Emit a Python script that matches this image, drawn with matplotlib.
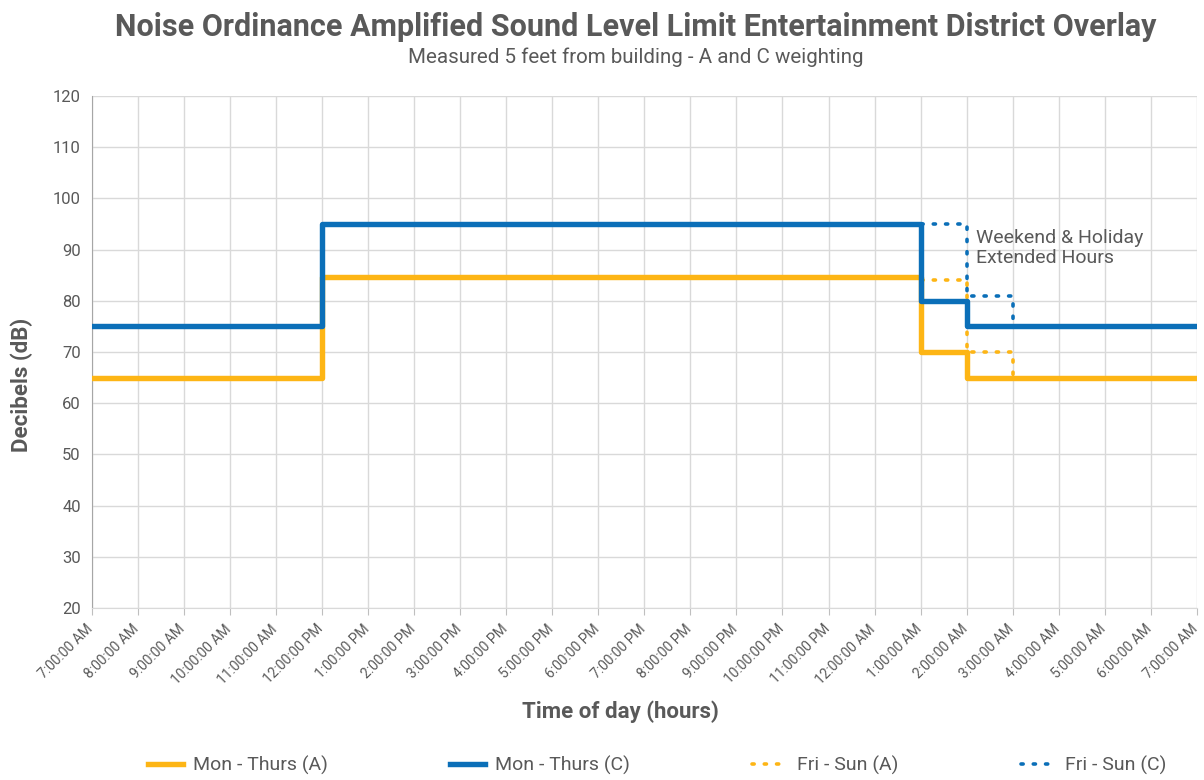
import matplotlib
matplotlib.use("Agg")
import matplotlib.pyplot as plt
from matplotlib import transforms

plt.rcParams['font.family'] = ['Roboto', 'DejaVu Sans']

# ---- data ----
tick_labels = ["7:00:00 AM", "8:00:00 AM", "9:00:00 AM", "10:00:00 AM", "11:00:00 AM",
               "12:00:00 PM", "1:00:00 PM", "2:00:00 PM", "3:00:00 PM", "4:00:00 PM",
               "5:00:00 PM", "6:00:00 PM", "7:00:00 PM", "8:00:00 PM", "9:00:00 PM",
               "10:00:00 PM", "11:00:00 PM", "12:00:00 AM", "1:00:00 AM", "2:00:00 AM",
               "3:00:00 AM", "4:00:00 AM", "5:00:00 AM", "6:00:00 AM", "7:00:00 AM"]
hours_weekday = [0, 5, 18, 19, 24]
mon_thurs_a = [65, 84.7, 70, 65, 65]
mon_thurs_c = [75, 95, 80, 75, 75]
hours_weekend = [18, 19, 20]
fri_sun_a = [84, 70, 65]
fri_sun_c = [95, 81, 75]

orange = '#FDB515'
blue = '#0B6FB8'
gray = '#595959'

fig = plt.figure(figsize=(12.04, 7.8), dpi=100)
ax = fig.add_axes([0.0764, 0.2205, 0.9176, 0.6565])

ax.step(hours_weekday, mon_thurs_a, where='post', color=orange, lw=3.9, label='Mon - Thurs (A)', zorder=3)
ax.step(hours_weekday, mon_thurs_c, where='post', color=blue, lw=3.9, label='Mon - Thurs (C)', zorder=3)
ax.step(hours_weekend, fri_sun_a, where='post', color=orange, lw=2.6, ls=(0, (0.6, 2.8)),
        dash_capstyle='round', label='Fri - Sun (A)', zorder=2)
ax.step(hours_weekend, fri_sun_c, where='post', color=blue, lw=2.6, ls=(0, (0.6, 2.8)),
        dash_capstyle='round', label='Fri - Sun (C)', zorder=2)

ax.set_xlim(0, 24)
ax.set_ylim(20, 120)
ax.set_xticks(range(25))
ax.set_yticks(range(20, 121, 10))
ax.tick_params(axis='y', length=0, labelsize=12, labelcolor=gray, pad=8)
ax.tick_params(axis='x', length=5, color='#BFBFBF', pad=5)
ax.set_xticklabels(tick_labels, rotation=45, ha='right', va='top', rotation_mode='anchor',
                   fontsize=10, color=gray)
shift = transforms.ScaledTranslation(-6 / 100, 0, fig.dpi_scale_trans)
for tick in ax.xaxis.get_major_ticks():
    tick.label1.set_transform(tick.label1.get_transform() + shift)
ax.grid(True, color='#D9D9D9', lw=1)
ax.set_axisbelow(True)
for s in ['top', 'right']:
    ax.spines[s].set_visible(False)
ax.spines['left'].set_color('#A6A6A6')
ax.spines['bottom'].set_color('#D9D9D9')

ax.text(19.2, 94.0, "Weekend & Holiday\nExtended Hours", fontsize=14, color=gray,
        va='top', ha='left', linespacing=1.15)

fig.text(0.528, 0.966, "Noise Ordinance Amplified Sound Level Limit Entertainment District Overlay",
         ha='center', va='center', fontsize=22, fontweight='bold', color=gray)
fig.text(0.528, 0.926, "Measured 5 feet from building - A and C weighting",
         ha='center', va='center', fontsize=14.8, color=gray)
fig.text(22 / 1204, 1 - 385 / 780, "Decibels (dB)", rotation=90, ha='center', va='center',
         fontsize=16, fontweight='bold', color=gray)
fig.text(0.515, 0.088, "Time of day (hours)", ha='center', va='center',
         fontsize=16, fontweight='bold', color=gray)

leg = fig.legend(loc='center', bbox_to_anchor=(0.546, 0.019), ncol=4, frameon=False,
                 fontsize=14, columnspacing=6.3, handlelength=1.8, handletextpad=0.5)
for t in leg.get_texts():
    t.set_color(gray)

fig.savefig('out.png', dpi=100)
